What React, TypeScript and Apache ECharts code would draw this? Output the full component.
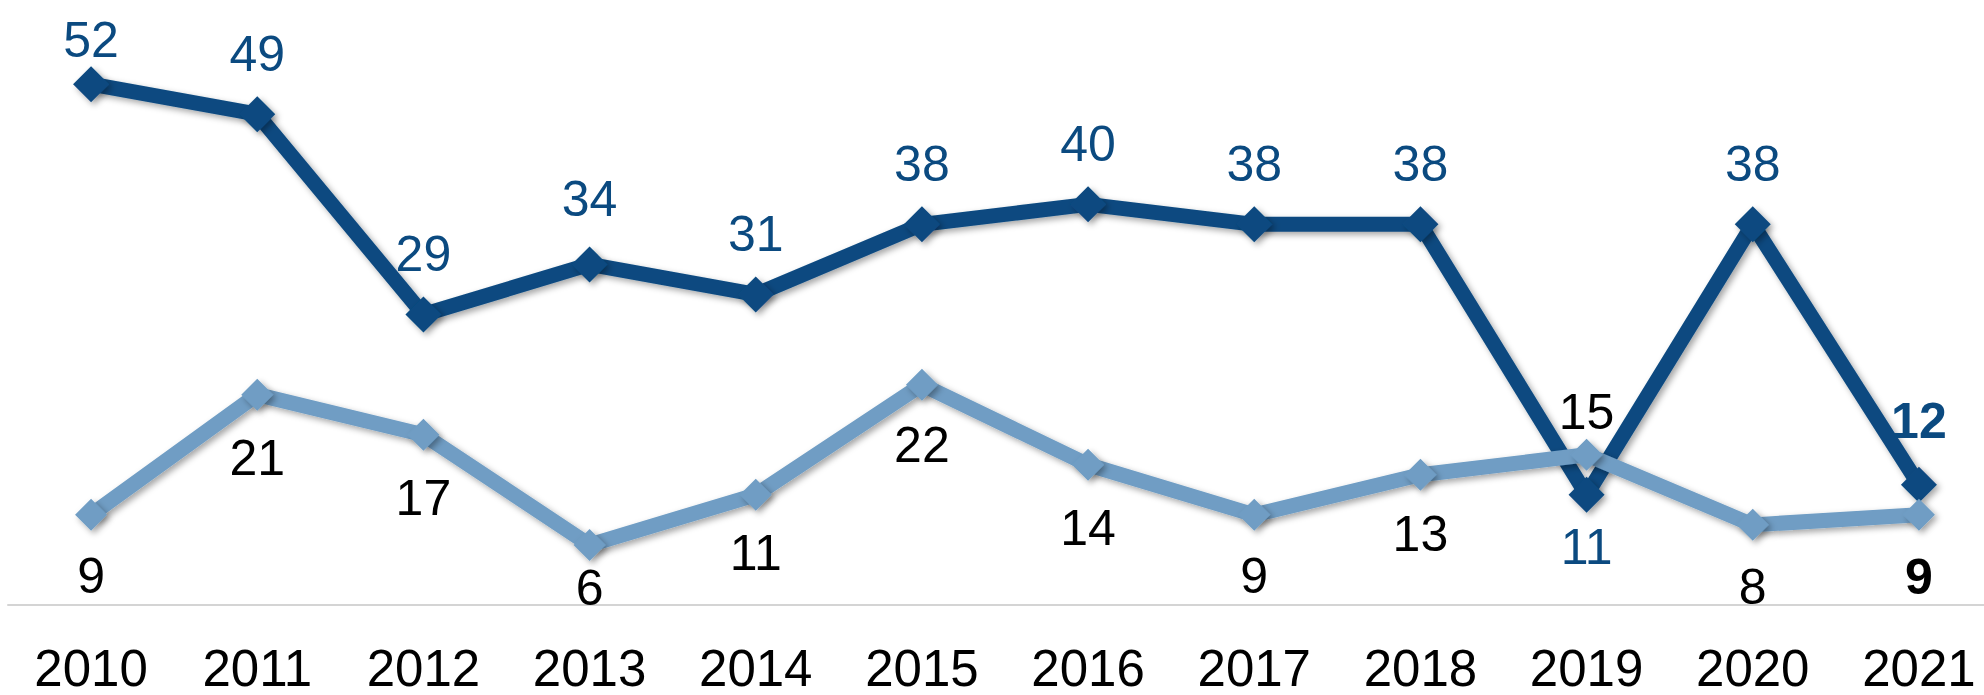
import React, { useEffect, useRef } from "react";
import * as echarts from "echarts";

const years = ["2010", "2011", "2012", "2013", "2014", "2015", "2016", "2017", "2018", "2019", "2020", "2021"];
const darkValues = [52, 49, 29, 34, 31, 38, 40, 38, 38, 11, 38, 12];
const lightValues = [9, 21, 17, 6, 11, 22, 14, 9, 13, 15, 8, 9];

// label placement (vertical offset in px from the marker centre)
const darkLabelOffsets = [-44, -60, -61, -65, -60, -60, -60, -60, -60, 52, -60, -64];
const lightLabelOffsets = [61, 63, 63, 43, 58, 60, 63, 61, 59, -43, 62, 62];

const DARK = "#0b4a80";
const LIGHT = "#6f9dc4";
const FONT = "'Liberation Sans', Arial, Helvetica, sans-serif";

export default function App() {
  const ref = useRef<HTMLDivElement>(null);
  useEffect(() => {
    if (!ref.current) return;
    const chart = echarts.init(ref.current, undefined, { renderer: "svg" });
    const lastIdx = years.length - 1;
    const shadow = {
      shadowColor: "rgba(0,0,0,0.35)",
      shadowBlur: 6,
      shadowOffsetX: 3,
      shadowOffsetY: 3,
    };
    chart.setOption({
      animation: false,
      grid: {
        left: 8,
        width: 1994,
        top: 4,
        bottom: 90,
        outerBoundsMode: "none",
        containLabel: false,
      },
      xAxis: {
        type: "category",
        data: years,
        boundaryGap: true,
        axisLine: { show: true, lineStyle: { color: "#d4d4d4", width: 2 } },
        axisTick: { show: false },
        axisLabel: { color: "#000", fontSize: 51, lineHeight: 44, fontFamily: FONT, margin: 41 },
        splitLine: { show: false },
      },
      yAxis: { type: "value", min: 0, max: 60, show: false, splitLine: { show: false } },
      series: [
        {
          name: "dark",
          type: "line",
          silent: true,
          symbol: "diamond",
          symbolSize: 36,
          lineStyle: { color: DARK, width: 15, ...shadow },
          itemStyle: { color: DARK, ...shadow },
          label: {
            show: true,
            position: "inside",
            color: DARK,
            fontSize: 50,
            fontFamily: FONT,
          },
          data: darkValues.map((v, i) => ({
            value: v,
            label: { offset: [0, darkLabelOffsets[i]], fontWeight: i === lastIdx ? "bold" : "normal" },
          })),
        },
        {
          name: "light",
          type: "line",
          silent: true,
          symbol: "diamond",
          symbolSize: 32,
          lineStyle: { color: LIGHT, width: 15, ...shadow },
          itemStyle: { color: LIGHT, ...shadow },
          label: {
            show: true,
            position: "inside",
            color: "#000",
            fontSize: 50,
            fontFamily: FONT,
          },
          data: lightValues.map((v, i) => ({
            value: v,
            label: { offset: [0, lightLabelOffsets[i]], fontWeight: i === lastIdx ? "bold" : "normal" },
          })),
        },
      ],
    });
    return () => chart.dispose();
  }, []);
  return (
    <div
      ref={ref}
      style={{ position: "absolute", left: 0, top: 0, width: 1984, height: 695, background: "#fff" }}
    />
  );
}
